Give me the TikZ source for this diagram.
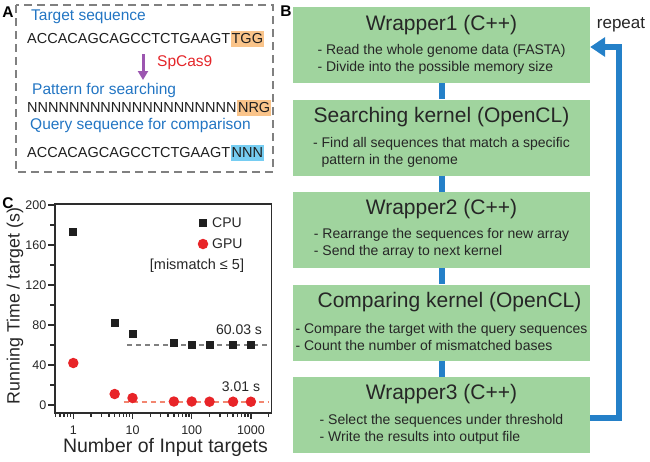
\documentclass[tikz,border=0pt]{standalone}
\usepackage{fontspec}
\setmainfont{Liberation Sans}
\usetikzlibrary{arrows.meta,shapes,positioning}
\definecolor{boxgreen}{RGB}{160,212,158}
\definecolor{linkblue}{RGB}{36,128,200}
\definecolor{headblue}{RGB}{34,117,195}
\definecolor{hlorange}{RGB}{250,196,138}
\definecolor{hlblue}{RGB}{118,205,242}
\definecolor{casred}{RGB}{228,38,42}
\definecolor{caspurple}{RGB}{156,86,176}
\definecolor{gpured}{RGB}{232,36,40}
\definecolor{gpufitc}{RGB}{242,134,112}
\definecolor{axisgray}{RGB}{45,45,45}
\newcommand{\fsz}[2]{\fontsize{#1}{#2}\selectfont}
\tikzset{
  panellab/.style={font=\fsz{15.5}{18}\bfseries, inner sep=0pt},
  seqhead/.style={anchor=west, inner sep=0pt, text=headblue, font=\fsz{15.5}{18}},
  seqtxt/.style={anchor=west, inner xsep=0pt, inner ysep=0pt, text height=12pt, text depth=4pt, font=\fsz{14.5}{17}, text=black!88},
  hilite/.style={seqtxt, inner xsep=1pt},
  wbox/.style={rectangle, fill=boxgreen, minimum width=297pt, minimum height=76pt, inner sep=0pt},
  wtitle/.style={font=\fsz{21}{24}, text=black!85, inner sep=0pt},
  wbody/.style={font=\fsz{14}{17}, text=black!85, align=left, inner sep=0pt},
  link/.style={draw=linkblue, line width=6pt},
  loopback/.style={draw=linkblue, line width=6pt, line join=miter, -{Triangle[width=19pt,length=15pt]}},
  casarrow/.style={draw=caspurple, line width=3pt, -{Triangle[width=10pt,length=9pt]}},
  axline/.style={draw=axisgray, line width=1.4pt},
  ticklab/.style={font=\fsz{12.5}{14}, text=black!85, inner sep=0pt},
  plotlab/.style={font=\fsz{14}{16}, text=black!85, inner sep=0pt},
  axtitle/.style={font=\fsz{19.5}{22}, text=black!85, inner sep=0pt},
  cpupt/.style={rectangle, fill=black!88, minimum size=8pt, inner sep=0pt},
  gpupt/.style={circle, fill=gpured, minimum size=10.5pt, inner sep=0pt},
  cpufit/.style={draw=gray, line width=2pt, dash pattern=on 5pt off 4pt},
  gpufit/.style={draw=gpufitc, line width=2pt, dash pattern=on 5pt off 4pt}
}
\begin{document}
\begin{tikzpicture}[x=1pt, y=-1pt, node distance=92.5pt]
  \useasboundingbox (0,0) rectangle (650,461);
  \node[panellab] at (8,12) (lA) {A};
  \node[panellab] at (286,11) (lB) {B};
  \node[panellab] at (8,203) (lC) {C};

  \draw[gray, line width=1.6pt, dash pattern=on 8pt off 5pt] (16,5) rectangle (273,172);
  \node[seqhead] at (31,17) (tgt) {Target sequence};
  \node[seqtxt] at (27,39) (s1) {ACCACAGCAGCCTCTGAAGT};
  \node[hilite, fill=hlorange, right=0pt of s1] (s1p) {TGG};
  \coordinate (casT) at (143,54);
  \coordinate (casB) at (143,80);
  \draw[casarrow] (casT) -- (casB);
  \node[anchor=west, inner sep=0pt, text=casred, font=\fsz{15.5}{18}] at (157,63) (cas) {SpCas9};
  \node[seqhead] at (32,90) (pat) {Pattern for searching};
  \node[seqtxt] at (27,108) (s2) {NNNNNNNNNNNNNNNNNNNN};
  \node[hilite, fill=hlorange, right=0pt of s2] (s2p) {NRG};
  \node[seqhead] at (30,125) (qry) {Query sequence for comparison};
  \node[seqtxt] at (27,153) (s3) {ACCACAGCAGCCTCTGAAGT};
  \node[hilite, fill=hlblue, right=0pt of s3] (s3p) {NNN};

  \node[wbox] at (441.5,45) (w1) {};
  \node[wbox, below of=w1] (w2) {};
  \node[wbox, below of=w2] (w3) {};
  \node[wbox, below of=w3] (w4) {};
  \node[wbox, below of=w4] (w5) {};
  \foreach \a/\b in {w1/w2,w2/w3,w3/w4,w4/w5}
    \draw[link] (\a) -- (\b);
  \node[wtitle] at ([yshift=-18pt]w1.north) (w1t) {Wrapper1 (C++)};
  \node[wbody] at ([yshift=-53pt]w1.north) (w1b) {- Read the whole genome data (FASTA)\\- Divide into the possible memory size};
  \node[wtitle] at ([yshift=-18pt]w2.north) (w2t) {Searching kernel (OpenCL)};
  \node[wbody] at ([yshift=-53pt]w2.north) (w2b) {- Find all sequences that match a specific\\\phantom{- }pattern in the genome};
  \node[wtitle] at ([yshift=-17pt]w3.north) (w3t) {Wrapper2 (C++)};
  \node[wbody] at ([yshift=-52pt]w3.north) (w3b) {- Rearrange the sequences for new array\\- Send the array to next kernel};
  \node[wtitle] at ([xshift=8pt,yshift=-18pt]w4.north) (w4t) {Comparing kernel (OpenCL)};
  \node[wbody] at ([yshift=-53pt]w4.north) (w4b) {- Compare the target with the query sequences\\- Count the number of mismatched bases};
  \node[wtitle] at ([yshift=-17pt]w5.north) (w5t) {Wrapper3 (C++)};
  \node[wbody] at ([yshift=-53pt]w5.north) (w5b) {- Select the sequences under threshold\\- Write the results into output file};
  \coordinate (rp) at (619,230);
  \draw[loopback] ([yshift=-3pt]w5.east) -- ([yshift=-3pt]w5.east -| rp) -- ([yshift=-2pt]w1.east -| rp) -- ([yshift=-2pt]w1.east);
  \node[font=\fsz{17}{20}, text=black!85, inner sep=0pt] at (621,25) (rep) {repeat};

  \begin{scope}[shift={(73.3,405)}, x=59.2pt, y=1pt]
    \draw[axline] (-0.31,201) -- (-0.31,-8) -- (3.35,-8) -- (3.35,201) -- cycle;
    \foreach \v in {0,40,...,200}
      \draw[axline] (-0.31,\v) -- ++(-7pt,0pt) node[ticklab, anchor=east, xshift=-1pt] (yl\v) {\v};
    \foreach \v in {20,60,...,180}
      \draw[axline] (-0.31,\v) -- ++(-4.5pt,0pt);
    \foreach \e/\t in {0/1,1/10,2/100,3/1000} {
      \draw[axline] (\e,-8) -- ++(0pt,-6pt);
      \node[ticklab] at (\e,-25) (xl\e) {\t};
    }
    \foreach \e in {-1,0,1,2,3}
      \foreach \m in {2,...,9} {
        \pgfmathsetmacro\lx{\e+log10(\m)}
        \ifdim\lx pt>-0.31pt \ifdim\lx pt<3.35pt \draw[axline] (\lx,-8) -- ++(0pt,-3.5pt); \fi\fi
      }
    \draw[cpufit] (0.91,60.03) -- (3.3,60.03);
    \draw[gpufit] (0.85,3.01) -- (3.3,3.01);
    \foreach \n/\c/\g in {1/173/42,5/82/11,10/71/7,50/62/3.5,100/60.5/3.5,200/60/3.3,500/60.5/3.3,1000/60/3.3} {
      \pgfmathsetmacro\lx{log10(\n)}
      \node[cpupt] at (\lx,\c) (c\n) {};
      \node[gpupt] at (\lx,\g) (g\n) {};
    }
  \end{scope}
  \node[plotlab] at (239,330) (fitc) {60.03 s};
  \node[plotlab] at (241,387) (fitg) {3.01 s};
  \node[cpupt] at (203,223) (lgc) {};
  \node[plotlab, anchor=west] at (212,223) (lgct) {CPU};
  \node[gpupt] at (203,244) (lgg) {};
  \node[plotlab, anchor=west] at (212,244) (lggt) {GPU};
  \node[plotlab, font=\fsz{14.5}{16}] at (197,266) (mism) {[mismatch ≤ 5]};
  \node[axtitle, font=\fsz{17.8}{20}, rotate=90] at (15,306) (yt) {Running Time / target (s)};
  \node[axtitle] at (165.5,447) (xt) {Number of Input targets};
\end{tikzpicture}
\end{document}
